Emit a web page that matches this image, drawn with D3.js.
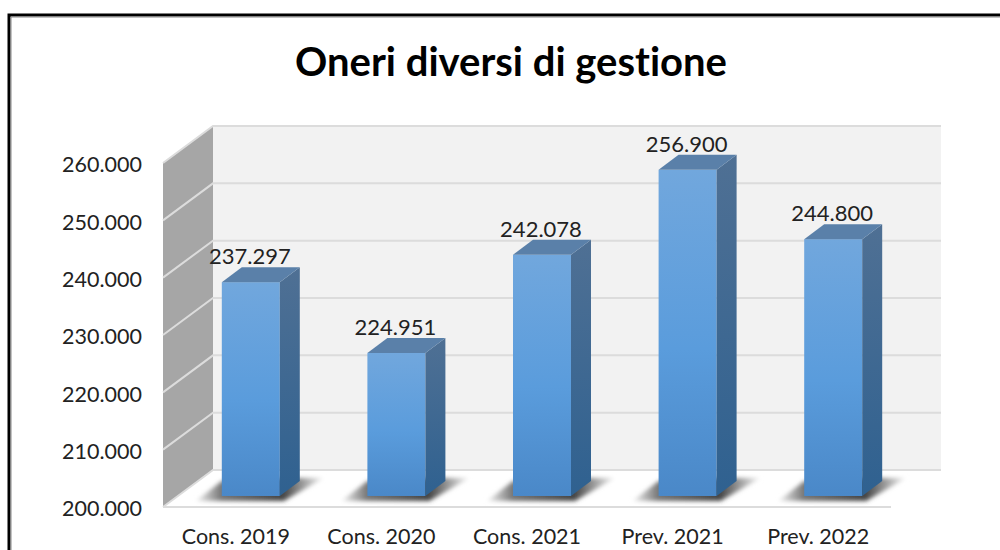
<!DOCTYPE html>
<html>
<head>
<meta charset="utf-8">
<script src="https://cdnjs.cloudflare.com/ajax/libs/d3/7.8.5/d3.min.js"></script>
<style>
  html, body { margin: 0; background: #fff; }
  text { font-family: Lato, "Open Sans", sans-serif; fill: #222; font-variant-ligatures: none; }
</style>
</head>
<body>
<svg id="chart" width="1000" height="550"></svg>
<script>
const chartTitle = 'Oneri diversi di gestione'
const categories = ['Cons. 2019', 'Cons. 2020', 'Cons. 2021', 'Prev. 2021', 'Prev. 2022']
const values = [237297, 224951, 242078, 256900, 244800]
const yTicks = [200000, 210000, 220000, 230000, 240000, 250000, 260000]

const svg = d3.select('#chart')
const defs = svg.append('defs')

const x = d3.scaleBand().domain(categories).range([163, 891])
const y = d3.scaleLinear().domain([200000, 260000]).range([507, 163])
const label = d3.formatLocale({ decimal: ',', thousands: '.', grouping: [3], currency: ['', ''] }).format(',d')

// depth offsets of the 3d box
const wall = { dx: 50, dy: -37 }
const barPlane = { dx: 15, dy: -11 }
const barDepth = { dx: 20, dy: -15 }
const barWidth = 58
const backRight = 941

const pts = list => list.map(p => p.join(',')).join(' ')

function gradient (id, stops, x2, y2) {
  const g = defs.append('linearGradient').attr('id', id)
    .attr('x1', 0).attr('y1', 0).attr('x2', x2).attr('y2', y2)
  stops.forEach(([o, c]) => g.append('stop').attr('offset', o).attr('stop-color', c))
}
gradient('front', [[0, '#71a7dd'], [0.55, '#5a9cdc'], [1, '#4a88c8']], 0, 1)
gradient('side', [[0, '#4f7094'], [1, '#2f6190']], 0, 1)
gradient('shadow', [[0, '#f4f4f4'], [0.2, '#777'], [0.68, '#444'], [1, '#f8f8f8']], 1, 0)
defs.append('filter').attr('id', 'blur').attr('x', '-20%').attr('y', '-40%').attr('width', '140%').attr('height', '180%')
  .append('feGaussianBlur').attr('stdDeviation', 2)

// frame
svg.append('path').attr('d', 'M9,550V15H1000').attr('fill', 'none').attr('stroke', '#000').attr('stroke-width', 3)
svg.append('path').attr('d', 'M11,550V17H1000').attr('fill', 'none').attr('stroke', '#888').attr('stroke-width', 1)

svg.append('text').attr('x', 511).attr('y', 76).attr('text-anchor', 'middle')
  .attr('font-size', 40).attr('font-weight', 700).style('fill', '#000').text(chartTitle)

// walls
const left = x.range()[0]
const right = x.range()[1]
const yTop = y(260000)
const yBase = y(200000)
svg.append('polygon').attr('fill', '#f2f2f2')
  .attr('points', pts([[left + wall.dx, yTop + wall.dy], [backRight, yTop + wall.dy], [backRight, yBase + wall.dy], [left + wall.dx, yBase + wall.dy]]))
svg.append('polygon').attr('fill', '#a6a6a6')
  .attr('points', pts([[left, yTop], [left + wall.dx, yTop + wall.dy], [left + wall.dx, yBase + wall.dy], [left, yBase]]))
svg.append('polygon').attr('fill', '#fff')
  .attr('points', pts([[left, yBase], [left + wall.dx, yBase + wall.dy], [backRight, yBase + wall.dy], [right, yBase]]))

// gridlines, back wall and side wall
svg.append('g').selectAll('path').data(yTicks).join('path')
  .attr('fill', 'none').attr('stroke', '#dcdcdc').attr('stroke-width', 2)
  .attr('d', d => `M${left},${y(d)}L${left + wall.dx},${y(d) + wall.dy}H${backRight}`)
svg.append('line').attr('x1', left).attr('x2', right).attr('y1', yBase).attr('y2', yBase)
  .attr('stroke', '#dcdcdc').attr('stroke-width', 2)

// y axis labels
const yAxis = d3.axisLeft(y).tickValues(yTicks).tickFormat(label).tickSize(0).tickPadding(21)
const yG = svg.append('g').attr('transform', `translate(${left},2)`).call(yAxis)
yG.select('.domain').remove()
yG.selectAll('text').attr('font-size', 21.5).attr('font-family', null)

// x axis labels
const xAxis = d3.axisBottom(x).tickSize(0).tickPadding(22)
const xG = svg.append('g').attr('transform', `translate(0,${yBase})`).call(xAxis)
xG.select('.domain').remove()
xG.selectAll('text').attr('font-size', 21.5).attr('font-family', null)

// bars
const bars = svg.append('g').selectAll('g').data(categories.map((c, i) => ({ c, v: values[i] }))).join('g')
const bx = d => x(d.c) + x.bandwidth() / 2 - barWidth / 2 + barPlane.dx
const by = v => y(v) + barPlane.dy

bars.append('polygon').attr('fill', 'url(#shadow)').attr('filter', 'url(#blur)')
  .attr('points', d => pts([
    [bx(d) - 26, by(200000) + 5],
    [bx(d) + barWidth + 4, by(200000) + 5],
    [bx(d) + barWidth + 44, by(200000) - 18],
    [bx(d) + barWidth + 18, by(200000) - 18],
    [bx(d), by(200000) - 15]
  ]))
bars.append('rect').attr('fill', 'url(#front)')
  .attr('x', bx).attr('width', barWidth)
  .attr('y', d => by(d.v)).attr('height', d => by(200000) - by(d.v))
bars.append('polygon').attr('fill', 'url(#side)')
  .attr('points', d => pts([
    [bx(d) + barWidth, by(d.v)],
    [bx(d) + barWidth + barDepth.dx, by(d.v) + barDepth.dy],
    [bx(d) + barWidth + barDepth.dx, by(200000) + barDepth.dy],
    [bx(d) + barWidth, by(200000)]
  ]))
bars.append('polygon').attr('fill', '#5a80a9')
  .attr('points', d => pts([
    [bx(d), by(d.v)],
    [bx(d) + barDepth.dx, by(d.v) + barDepth.dy],
    [bx(d) + barWidth + barDepth.dx, by(d.v) + barDepth.dy],
    [bx(d) + barWidth, by(d.v)]
  ]))
bars.append('text').attr('text-anchor', 'middle').attr('font-size', 22)
  .attr('x', d => bx(d) + barWidth / 2 - 1)
  .attr('y', d => by(d.v) - 18)
  .text(d => label(d.v))
</script>
</body>
</html>
